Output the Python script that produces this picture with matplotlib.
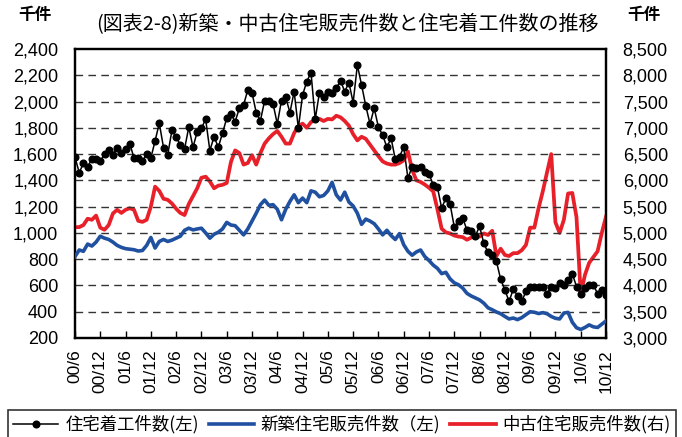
import matplotlib
matplotlib.use("Agg")
import matplotlib.pyplot as plt
import numpy as np

# ---- data (monthly, 2000/06 .. 2010/12) ----
start_year, start_month = 2000, 6

housing_starts = [
    1576, 1459, 1530, 1505, 1560, 1560, 1545, 1600, 1630, 1595,
    1650, 1610, 1640, 1680, 1570, 1570, 1545, 1600, 1570, 1700,
    1835, 1650, 1595, 1780, 1730, 1670, 1640, 1805, 1652, 1770,
    1797, 1865, 1627, 1733, 1652, 1759, 1873, 1906, 1847, 1949,
    1974, 2088, 2068, 1916, 1855, 2007, 2007, 1982, 1830, 2007,
    2032, 1916, 2076, 1797, 2050, 2152, 2220, 1865, 2068, 2032,
    2076, 2063, 2101, 2159, 2076, 2144, 1992, 2278, 2126, 1967,
    1830, 1949, 1804, 1746, 1652, 1721, 1561, 1581, 1652, 1416,
    1505, 1492, 1500, 1467, 1449, 1366, 1348, 1188, 1264, 1221,
    1044, 1087, 1112, 1023, 1011, 978, 1049, 922, 851, 833,
    783, 648, 567, 478, 572, 522, 478, 555, 592, 592,
    592, 592, 537, 592, 580, 618, 605, 643, 689, 592,
    537, 580, 605, 605, 537, 562, 529,
]

new_sales = [
    820, 870, 860, 915, 900, 930, 975, 960, 950, 930,
    905, 890, 880, 876, 872, 862, 866, 905, 965, 885,
    935, 950, 935, 945, 960, 975, 1020, 1036, 1023, 1030,
    1036, 1000, 960, 990, 1005, 1030, 1080, 1060, 1055, 1020,
    985, 1030, 1090, 1150, 1215, 1250, 1210, 1215, 1180, 1100,
    1180, 1240, 1290, 1230, 1265, 1230, 1320, 1310, 1275, 1285,
    1320, 1385, 1290, 1250, 1310, 1235, 1205, 1150, 1065, 1105,
    1090, 1070, 1030, 985, 1020, 980, 950, 995, 910, 860,
    830, 855, 870, 820, 790, 755, 730, 690, 700, 650,
    620, 605, 580, 540, 520, 505, 490, 465, 430, 415,
    398, 385, 364, 345, 352, 340, 355, 378, 400, 396,
    386, 393, 385, 364, 350, 345, 390, 395, 320, 278,
    265, 280, 300, 285, 280, 305, 330,
]

used_sales = [
    5110, 5110, 5150, 5270, 5250, 5330, 5100, 5060, 5150, 5370,
    5440, 5380, 5440, 5470, 5440, 5230, 5210, 5250, 5500, 5880,
    5800, 5650, 5630, 5560, 5460, 5380, 5340, 5550, 5700, 5850,
    6050, 6070, 5980, 5850, 5900, 5915, 5950, 6350, 6570, 6520,
    6300, 6330, 6480, 6300, 6520, 6700, 6800, 6880, 6940, 6830,
    6700, 6700, 6900, 7030, 7080, 7000, 7110, 7140, 7170, 7130,
    7170, 7160, 7230, 7200, 7130, 7040, 6880, 6760, 6830, 6790,
    6680, 6570, 6460, 6360, 6320, 6300, 6300, 6330, 6380, 6550,
    6200, 6000, 5970, 5920, 5860, 5790, 5450, 5080, 5010, 4990,
    4950, 4930, 4920, 4870, 4910, 4960, 4930, 4990, 4960, 5040,
    4560, 4700, 4580, 4560, 4615, 4615, 4670, 4770, 5100, 5100,
    5470, 5790, 6150, 6500, 5200, 5000, 5250, 5750, 5760, 5300,
    3830, 4200, 4430, 4540, 4650, 5000, 5310,
]

left_ticks = [200, 400, 600, 800, 1000, 1200, 1400, 1600, 1800, 2000, 2200, 2400]
right_ticks = [3000, 3500, 4000, 4500, 5000, 5500, 6000, 6500, 7000, 7500, 8000, 8500]

title = "(図表2-8)新築・中古住宅販売件数と住宅着工件数の推移"
unit = "千件"
labels = ["住宅着工件数(左)", "新築住宅販売件数（左)", "中古住宅販売件数(右)"]

# ---- build x ----
n = len(housing_starts)
x = np.arange(n)
tick_pos = list(range(0, n, 6))
tick_lbl = []
for p in tick_pos:
    m = start_month - 1 + p
    yy = (start_year + m // 12) % 100
    mm = m % 12 + 1
    tick_lbl.append(f"{yy:02d}/{mm}")

cjk = ["Noto Sans CJK JP", "DejaVu Sans"]
num_font = ["Liberation Sans Narrow", "Liberation Sans", "DejaVu Sans"]

fig = plt.figure(figsize=(6.82, 4.37), dpi=100)
ax = fig.add_axes([75/682, 1-338/437, (606-75)/682, (338-49)/437])
ax2 = ax.twinx()

black = "#000000"
blue = "#2050a0"
red = "#e8202a"

l2, = ax.plot(x, new_sales, color=blue, lw=2.6, solid_joinstyle="round", zorder=3)
l1, = ax.plot(x, housing_starts, color=black, lw=1.1, marker="o", ms=4.8, zorder=4)
l3, = ax2.plot(x, used_sales, color=red, lw=2.7, solid_joinstyle="round", zorder=3)

ax.set_zorder(ax2.get_zorder() + 1)
ax.patch.set_visible(False)

ax.set_xlim(0, n - 1)
ax.set_ylim(200, 2400)
ax2.set_ylim(3000, 8500)
ax.set_yticks(left_ticks)
ax.set_yticklabels([f"{v:,}" for v in left_ticks], fontfamily=num_font, fontsize=13)
ax2.set_yticks(right_ticks)
ax2.set_yticklabels([f"{v:,}" for v in right_ticks], fontfamily=num_font, fontsize=13)
ax.tick_params(axis="y", length=0, pad=12)
ax2.tick_params(axis="y", length=0, pad=12)

ax.set_xticks(tick_pos)
ax.set_xticklabels(tick_lbl, rotation=90, fontfamily=num_font, fontsize=12.5)
ax.tick_params(axis="x", direction="in", length=5, width=1, pad=8)

for v in left_ticks[1:-1]:
    ax.axhline(v, color="#333333", lw=1.0, ls=(0, (5.5, 3.8)), zorder=1)

for a in (ax, ax2):
    for s in a.spines.values():
        s.set_linewidth(1.6)
        s.set_color("black")

fig.text(347/682, 1-25/437, title, ha="center", va="center", fontsize=14.4, family=cjk)
fig.text(35/682, 1-15/437, unit, ha="center", va="center", fontsize=12, family=cjk, fontweight="bold")
fig.text(644/682, 1-15/437, unit, ha="center", va="center", fontsize=12, family=cjk, fontweight="bold")

leg = fig.legend([l1, l2, l3], labels, loc="upper left", ncol=3, mode="expand",
                 bbox_to_anchor=(8/682, -0.2, 668/682, 0.2 + 1 - 410/437),
                 prop={"family": cjk, "size": 12.5}, frameon=True, fancybox=False,
                 edgecolor="black", handlelength=2.6, borderaxespad=0, borderpad=0.3,
                 handletextpad=0.4, columnspacing=1.0)
leg.get_frame().set_linewidth(1.2)

fig.savefig("out.png", dpi=100)
